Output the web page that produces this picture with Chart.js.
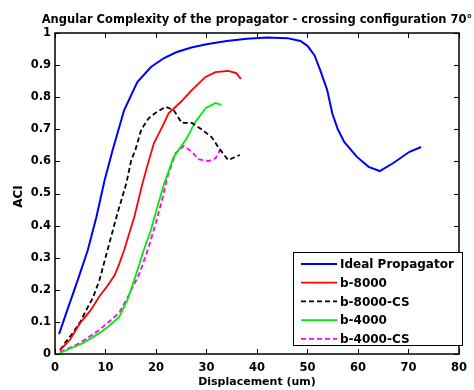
<!DOCTYPE html>
<html>
<head>
<meta charset="utf-8">
<script src="https://cdn.jsdelivr.net/npm/chart.js@4.4.0/dist/chart.umd.min.js"></script>
<style>
html,body{margin:0;padding:0;background:#fff;}
#wrap{width:474px;height:390px;position:relative;}
</style>
</head>
<body>
<div id="wrap"><canvas id="c" width="474" height="390"></canvas></div>
<script>
const chartTitle = "Angular Complexity of the propagator - crossing configuration 70°";
const xAxisTitle = "Displacement (um)";
const yAxisTitle = "ACI";
const seriesNames = ["Ideal Propagator", "b-8000", "b-8000-CS", "b-4000", "b-4000-CS"];
const xTicks = [0, 10, 20, 30, 40, 50, 60, 70, 80];
const yTicks = [0, 0.1, 0.2, 0.3, 0.4, 0.5, 0.6, 0.7, 0.8, 0.9, 1];

const idealX = [0.8, 2.5, 4.5, 6.5, 8.2, 9.8, 11.4, 13.7, 16.3, 19, 21.6, 24, 27, 30, 34, 38, 42, 46, 48.6, 50, 51.4, 52.5, 53.9, 54.9, 56, 57.3, 59.8, 62.1, 64.3, 67, 70.2, 72.5];
const idealY = [0.062, 0.14, 0.23, 0.324, 0.427, 0.54, 0.635, 0.76, 0.847, 0.894, 0.922, 0.94, 0.955, 0.965, 0.975, 0.982, 0.986, 0.984, 0.975, 0.96, 0.93, 0.885, 0.822, 0.75, 0.70, 0.66, 0.614, 0.583, 0.57, 0.595, 0.63, 0.645];

const b8000X = [1, 3, 5, 7, 8.8, 10.3, 11.8, 12.7, 13.7, 15.7, 17.3, 18.6, 19.6, 21.2, 22.5, 24.9, 27.1, 29.8, 31.8, 34.3, 35.9, 36.8];
const b8000Y = [0.012, 0.045, 0.097, 0.135, 0.18, 0.21, 0.245, 0.28, 0.324, 0.427, 0.53, 0.604, 0.657, 0.707, 0.75, 0.785, 0.822, 0.863, 0.878, 0.882, 0.875, 0.857];

const b8000csX = [1, 2, 3.5, 5, 6.2, 7.5, 8.8, 10.4, 12.4, 14.1, 15.1, 15.9, 17.1, 18.6, 19.8, 21.9, 23.5, 25.1, 27.1, 29, 31, 32.7, 34.3, 36.6];
const b8000csY = [0.012, 0.035, 0.065, 0.1, 0.137, 0.175, 0.23, 0.324, 0.44, 0.53, 0.604, 0.635, 0.70, 0.735, 0.75, 0.77, 0.76, 0.72, 0.72, 0.70, 0.676, 0.636, 0.604, 0.62];

const b4000X = [1, 3, 5.5, 8.8, 10.5, 12.7, 14.5, 16.3, 17.5, 19, 20.3, 21.6, 23.5, 25.9, 27.8, 29.8, 31.8, 32.9];
const b4000Y = [0.003, 0.017, 0.034, 0.065, 0.085, 0.115, 0.175, 0.26, 0.32, 0.386, 0.46, 0.53, 0.614, 0.667, 0.723, 0.766, 0.782, 0.776];

const b4000csX = [1, 3, 4.9, 8.8, 10.5, 12.7, 14.5, 16.7, 18.5, 20, 21.2, 22.2, 23.9, 25.5, 27.1, 28.4, 30.4, 31.8, 32.9];
const b4000csY = [0.006, 0.02, 0.034, 0.075, 0.098, 0.128, 0.18, 0.25, 0.33, 0.41, 0.48, 0.548, 0.626, 0.648, 0.63, 0.607, 0.601, 0.61, 0.642];

const seriesX = [idealX, b8000X, b8000csX, b4000X, b4000csX];
const seriesY = [idealY, b8000Y, b8000csY, b4000Y, b4000csY];
const colors = ["#0000ff", "#ff0000", "#000000", "#00ee00", "#ff00ff"];
const dashes = [[], [], [5, 3], [], [5, 3]];

const FONT = '"DejaVu Sans", Verdana, sans-serif';

const datasets = seriesNames.map((name, i) => ({
  label: name,
  data: seriesX[i].map((x, j) => ({x: x, y: seriesY[i][j]})),
  borderColor: colors[i],
  backgroundColor: colors[i],
  borderWidth: i === 0 ? 2 : 1.8,
  borderDash: dashes[i],
  pointRadius: 0,
  tension: 0,
  fill: false
}));

const decor = {
  id: 'decor',
  afterDraw(chart) {
    const ctx = chart.ctx;
    const a = chart.chartArea;
    const xs = chart.scales.x, ys = chart.scales.y;
    ctx.save();
    ctx.strokeStyle = '#000';
    ctx.lineWidth = 1.5;
    ctx.strokeRect(a.left, a.top, a.right - a.left, a.bottom - a.top);
    ctx.lineWidth = 1;
    const tl = 5;
    xTicks.forEach(v => {
      const px = Math.round(xs.getPixelForValue(v)) + 0.5;
      ctx.beginPath();
      ctx.moveTo(px, a.bottom); ctx.lineTo(px, a.bottom - tl);
      ctx.moveTo(px, a.top); ctx.lineTo(px, a.top + tl);
      ctx.stroke();
    });
    yTicks.forEach(v => {
      const py = Math.round(ys.getPixelForValue(v)) + 0.5;
      ctx.beginPath();
      ctx.moveTo(a.left, py); ctx.lineTo(a.left + tl, py);
      ctx.moveTo(a.right, py); ctx.lineTo(a.right - tl, py);
      ctx.stroke();
    });
    ctx.fillStyle = '#000';
    ctx.font = 'bold 11.5px ' + FONT;
    ctx.textAlign = 'center';
    ctx.textBaseline = 'alphabetic';
    ctx.fillText(chartTitle, (a.left + a.right) / 2, 23);
    ctx.font = 'bold 11px ' + FONT;
    ctx.textBaseline = 'middle';
    ctx.fillText(xAxisTitle, (a.left + a.right) / 2, 382);
    ctx.save();
    ctx.translate(19, (a.top + a.bottom) / 2 + 3);
    ctx.rotate(-Math.PI / 2);
    ctx.font = 'bold 12px ' + FONT;
    ctx.fillText(yAxisTitle, 0, 0);
    ctx.restore();
    const lx = 293, ly = 252, lw = 169, lh = 93;
    ctx.fillStyle = '#fff';
    ctx.fillRect(lx, ly, lw, lh);
    ctx.strokeStyle = '#000';
    ctx.lineWidth = 1;
    ctx.strokeRect(lx + 0.5, ly + 0.5, lw, lh);
    ctx.font = 'bold 12px ' + FONT;
    ctx.textAlign = 'left';
    ctx.textBaseline = 'middle';
    chart.data.datasets.forEach((ds, i) => {
      const yy = 264 + i * 18.7;
      ctx.strokeStyle = ds.borderColor;
      ctx.lineWidth = ds.borderWidth;
      ctx.setLineDash(ds.borderDash || []);
      ctx.beginPath();
      ctx.moveTo(301, yy); ctx.lineTo(337, yy);
      ctx.stroke();
      ctx.setLineDash([]);
      ctx.fillStyle = '#000';
      ctx.fillText(ds.label, 340, yy + 1);
    });
    ctx.restore();
  }
};

new Chart(document.getElementById('c'), {
  type: 'line',
  data: { datasets: datasets },
  options: {
    responsive: false,
    animation: false,
    layout: { padding: { left: 0, right: 11, top: 33, bottom: 0 } },
    plugins: { legend: { display: false }, title: { display: false }, tooltip: { enabled: false } },
    scales: {
      x: {
        type: 'linear', min: 0, max: 80,
        afterBuildTicks: s => { s.ticks = xTicks.map(v => ({value: v})); },
        afterFit: s => { s.height = 36; },
        grid: { display: false, drawTicks: false },
        border: { display: false },
        ticks: { color: '#000', padding: 7, maxRotation: 0, font: { family: FONT, size: 11.5, weight: 'bold' } }
      },
      y: {
        type: 'linear', min: 0, max: 1,
        afterBuildTicks: s => { s.ticks = yTicks.map(v => ({value: v})); },
        afterFit: s => { s.width = 55; },
        grid: { display: false, drawTicks: false },
        border: { display: false },
        ticks: { color: '#000', padding: 4, font: { family: FONT, size: 11.5, weight: 'bold' },
                 callback: v => String(Math.round(v * 10) / 10) }
      }
    }
  },
  plugins: [decor]
});
</script>
</body>
</html>
